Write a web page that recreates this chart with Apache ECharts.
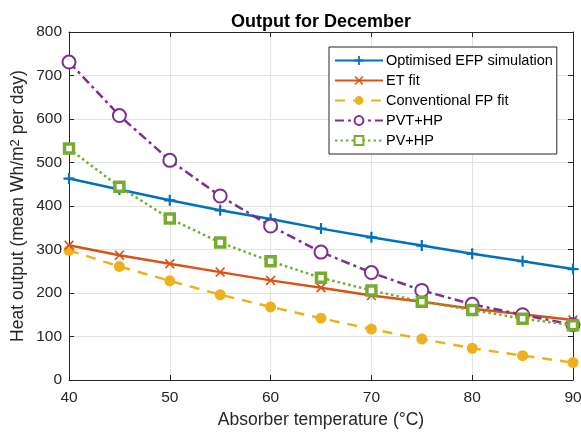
<!DOCTYPE html>
<html><head><meta charset="utf-8">
<script src="https://cdn.jsdelivr.net/npm/echarts@6/dist/echarts.min.js"></script>
<style>html,body{margin:0;padding:0;background:#fff}#c{width:581px;height:432px}</style>
</head><body><div id="c"></div>
<script>
const temps = [40,45,50,55,60,65,70,75,80,85,90];
const efpSim = [463,438,413,390,370,348,328,309,290,273,255];
const etFit = [310,287,267,248,229,212,194,180,164,151,138];
const fpFit = [298,261,228,196,168,142,117,94,73,56,40];
const pvtHp = [731,608,505,423,354,294,247,206,174,150,127];
const pvHp = [532,444,371,316,273,235,206,180,161,141,126];
const seriesNames = ['Optimised EFP simulation','ET fit','Conventional FP fit','PVT+HP','PV+HP'];

const FONT = 'Liberation Sans, Arial, sans-serif';
const TXT = '#262626';
const plusPath = 'path://M4,0H6V4H10V6H6V10H4V6H0V4H4Z';
const starPath = 'path://M1.2,0L5,3.8L8.8,0L10,1.2L6.2,5L10,8.8L8.8,10L5,6.2L1.2,10L0,8.8L3.8,5L0,1.2Z';

function pairs(v){ return temps.map((t,i)=>[t,v[i]]); }

const chart = echarts.init(document.getElementById('c'), null, {renderer:'canvas'});
const gridLine = {show:true, lineStyle:{color:'#e3e3e3', width:1}};
chart.setOption({
  animation:false,
  backgroundColor:'#fff',
  title:{text:'Output for December', left:316, top:8, textAlign:'center',
    textStyle:{fontFamily:FONT, fontSize:18, fontWeight:'bold', color:'#000'}},
  grid:{left:69, right:8, top:32, bottom:52, containLabel:false, outerBoundsMode:'none'},
  legend:{
    orient:'vertical', left:329, top:47,
    backgroundColor:'#fff', borderColor:TXT, borderWidth:1,
    padding:[6,4,6,5], itemGap:5, itemWidth:48, itemHeight:11,
    textStyle:{fontFamily:FONT, fontSize:14.5, color:'#000', padding:[0,0,0,-2]},
    data:seriesNames
  },
  xAxis:[{
    type:'value', min:40, max:90, interval:10,
    name:'Absorber temperature (°C)', nameLocation:'middle', nameGap:31,
    nameTextStyle:{fontFamily:FONT, fontSize:17.5, color:TXT},
    axisLine:{show:true, onZero:false, lineStyle:{color:TXT, width:1}},
    axisTick:{show:true, inside:true, length:5, lineStyle:{color:TXT}},
    axisLabel:{fontFamily:FONT, fontSize:15.5, color:TXT, margin:10},
    splitLine:gridLine
  },{
    type:'value', position:'top', min:40, max:90, interval:10,
    axisLine:{show:true, onZero:false, lineStyle:{color:TXT, width:1}},
    axisTick:{show:true, inside:true, length:5, lineStyle:{color:TXT}},
    axisLabel:{show:false}, splitLine:{show:false}
  }],
  yAxis:[{
    type:'value', min:0, max:800, interval:100,
    name:'Heat output (mean Wh/m{sup|2} per day)', nameLocation:'middle', nameGap:42,
    nameMoveOverlap:false,
    nameTextStyle:{fontFamily:FONT, fontSize:17.5, color:TXT,
      rich:{sup:{fontFamily:FONT, fontSize:13, color:TXT, verticalAlign:'top', lineHeight:13, padding:[0,0,9,0]}}},
    axisLine:{show:true, onZero:false, lineStyle:{color:TXT, width:1}},
    axisTick:{show:true, inside:true, length:5, lineStyle:{color:TXT}},
    axisLabel:{fontFamily:FONT, fontSize:15.5, color:TXT, margin:7},
    splitLine:gridLine
  },{
    type:'value', position:'right', min:0, max:800, interval:100,
    axisLine:{show:true, onZero:false, lineStyle:{color:TXT, width:1}},
    axisTick:{show:true, inside:true, length:5, lineStyle:{color:TXT}},
    axisLabel:{show:false}, splitLine:{show:false}
  }],
  series:[
    {name:seriesNames[0], type:'line', data:pairs(efpSim), color:'#0072BD',
      symbol:plusPath, symbolSize:11, showAllSymbol:true,
      lineStyle:{width:2.5, color:'#0072BD'}, itemStyle:{color:'#0072BD'}, z:5},
    {name:seriesNames[1], type:'line', data:pairs(etFit), color:'#D95319',
      symbol:starPath, symbolSize:10,
      lineStyle:{width:2.5, color:'#D95319'}, itemStyle:{color:'#D95319'}, z:4},
    {name:seriesNames[2], type:'line', data:pairs(fpFit), color:'#EDB120',
      symbol:'circle', symbolSize:11,
      lineStyle:{width:2.5, color:'#EDB120', type:[10,8]}, itemStyle:{color:'#EDB120'}, z:3},
    {name:seriesNames[3], type:'line', data:pairs(pvtHp), color:'#7E2F8E',
      symbol:'emptyCircle', symbolSize:13,
      lineStyle:{width:2.5, color:'#7E2F8E', type:[9,4,3,4]},
      itemStyle:{color:'#7E2F8E', borderColor:'#7E2F8E', borderWidth:2.5}, z:6},
    {name:seriesNames[4], type:'line', data:pairs(pvHp), color:'#77AC30',
      symbol:'rect', symbolSize:9,
      lineStyle:{width:2.5, color:'#77AC30', type:[2.5,3]},
      itemStyle:{color:'#ffffff', borderColor:'#77AC30', borderWidth:3.5}, z:7}
  ]
});
</script></body></html>
